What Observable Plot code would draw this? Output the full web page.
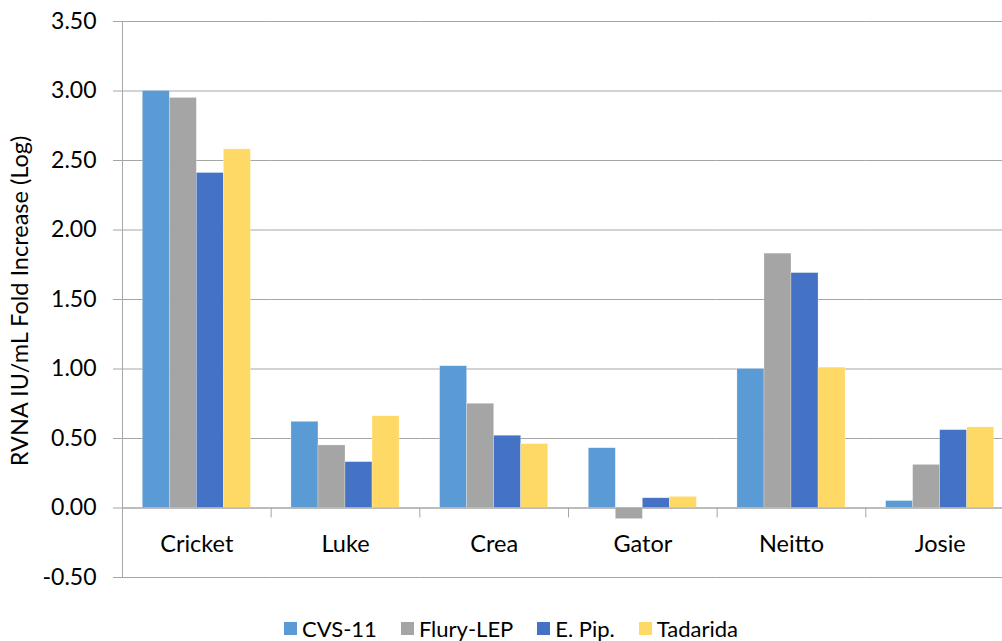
<!DOCTYPE html>
<html><head><meta charset="utf-8">
<script src="https://cdn.jsdelivr.net/npm/d3@7"></script>
<script src="https://cdn.jsdelivr.net/npm/@observablehq/plot@0.6"></script>
<style>
html,body{margin:0;padding:0;background:#fff;}
body{width:1002px;height:641px;overflow:hidden;font-family:Lato,"Open Sans",sans-serif;}
#legend{display:flex;justify-content:center;align-items:center;height:30px;padding-top:8px;font-size:22px;color:#000;margin-left:20px;}
#legend .item{display:flex;align-items:center;margin:0 12px;}
#legend .sw{width:13px;height:13px;margin-right:5px;}
</style></head><body>
<div id="chart"></div>
<div id="legend"></div>
<script>
const categories = ["Cricket","Luke","Crea","Gator","Neitto","Josie"];
const series = ["CVS-11","Flury-LEP","E. Pip.","Tadarida"];
const cvs11    = [3.00, 0.62, 1.02, 0.43, 1.00, 0.05];
const fluryLep = [2.95, 0.45, 0.75, -0.08, 1.83, 0.31];
const ePip     = [2.41, 0.33, 0.52, 0.07, 1.69, 0.56];
const tadarida = [2.58, 0.66, 0.46, 0.08, 1.01, 0.58];
const yTicks = [-0.5, 0, 0.5, 1, 1.5, 2, 2.5, 3, 3.5];
const colors = ["#5B9BD5","#A5A5A5","#4472C4","#FFD966"];
const yTitle = "RVNA IU/mL Fold Increase (Log)";

const seriesValues = [cvs11, fluryLep, ePip, tadarida];
const rows = [];
categories.forEach((c, i) => series.forEach((s, j) => rows.push({cat: c, series: s, value: seriesValues[j][i]})));

const grid = "#a6a6a6";
const chart = Plot.plot({
  width: 1002, height: 605,
  marginLeft: 122, marginRight: -12, marginTop: 21, marginBottom: 28,
  style: {fontFamily: "Lato, 'Open Sans', sans-serif", fontSize: "23px", color: "#000", background: "#fff", overflow: "visible"},
  fx: {domain: categories, padding: 0, axis: null, round: false},
  x: {domain: series, paddingInner: 0, paddingOuter: 0.75, axis: null, round: false},
  y: {domain: [-0.5, 3.5], axis: null},
  color: {domain: series, range: colors},
  marks: [
    Plot.ruleY(yTicks, {stroke: grid, strokeWidth: 1}),
    Plot.barY(rows, {fx: "cat", x: "series", y: "value", fill: "series", stroke: "#fff", strokeOpacity: 0.5, strokeWidth: 0.5}),
    Plot.ruleY([0], {stroke: grid, strokeWidth: 1.2}),
    Plot.ruleX(categories, {fx: d => d, x: () => series[0], y1: 0, y2: -0.072, dx: -33.8, stroke: grid}),
    Plot.ruleX([categories[0]], {fx: d => d, x: () => series[0], y1: -0.5, y2: 3.5, dx: -33.8, stroke: grid}),
    Plot.axisY(yTicks, {tickSize: 9, tickPadding: 17, stroke: grid, fill: "#000", tickFormat: d => d.toFixed(2), fontSize: 23, label: null}),
    Plot.text(categories, {fx: d => d, text: d => d, y: 0, dy: 36, frameAnchor: "middle", fontSize: 23.5, fill: "#000"})
  ]
});
document.getElementById("chart").appendChild(chart);

// rotated y title
const svg = d3.select(chart.tagName === "svg" ? chart : chart.querySelector("svg"));
svg.append("text")
  .attr("transform", "translate(22,301) rotate(-90)")
  .attr("text-anchor", "middle")
  .attr("dominant-baseline", "middle")
  .attr("font-size", 23.5)
  .attr("fill", "#000")
  .text(yTitle);

const legend = document.getElementById("legend");
series.forEach((s, i) => {
  const it = document.createElement("div"); it.className = "item";
  const sw = document.createElement("span"); sw.className = "sw"; sw.style.background = colors[i];
  const tx = document.createElement("span"); tx.textContent = s;
  it.appendChild(sw); it.appendChild(tx); legend.appendChild(it);
});
</script>
</body></html>
